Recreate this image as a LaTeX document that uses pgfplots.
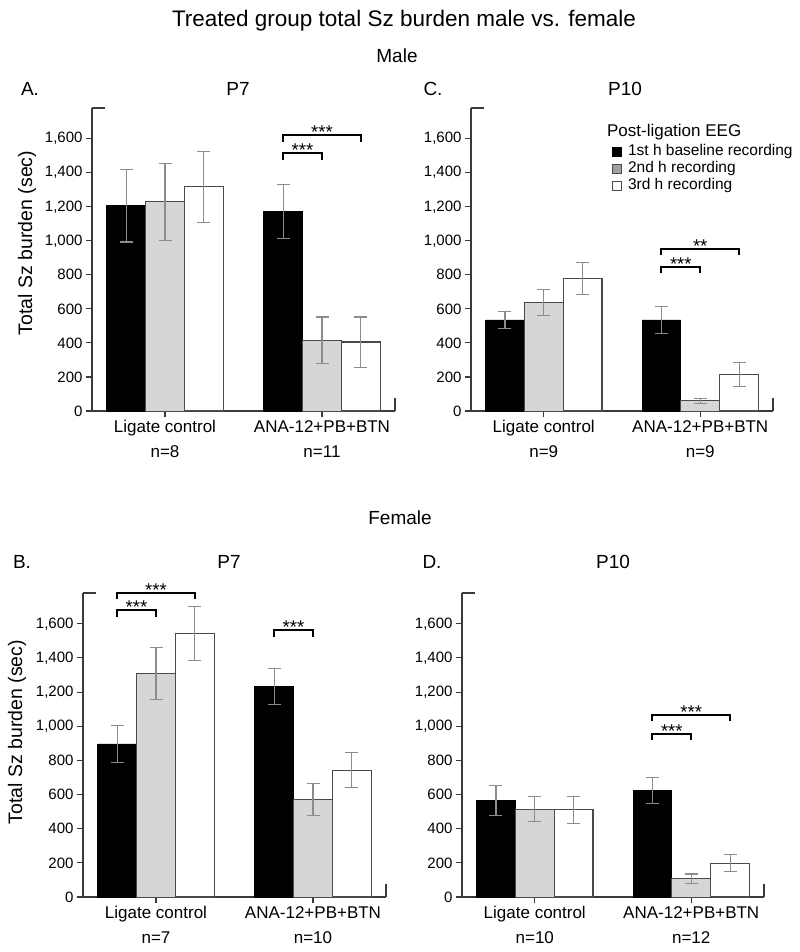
\documentclass[border=0pt]{standalone}
\usepackage{fontspec}
\setmainfont{Liberation Sans}
\usepackage{pgfplots}
\pgfplotsset{compat=1.18}

\definecolor{axc}{HTML}{3A3A3A}
\definecolor{barg}{HTML}{D6D6D6}
\definecolor{errc}{HTML}{8C8C8C}
\definecolor{edgec}{HTML}{4A4A4A}
\definecolor{legg}{HTML}{A0A0A0}

\newcommand{\sig}[6]{%
  \draw[line width=2bp, black] (axis cs:#1,#4) -- (axis cs:#1,#3) -- (axis cs:#2,#3) -- (axis cs:#2,#4);
  \node[anchor=base, font=\fontsize{18.5bp}{20bp}\selectfont, inner sep=0pt] at (axis cs:#5,#3) [yshift=-3.5bp] {#6};}

\pgfplotsset{
  panel/.style={
    scale only axis, width=303bp, height=303bp,
    xmin=-0.465, xmax=1.465, ymin=0, ymax=1780,
    axis x line*=bottom, axis y line*=left,
    axis line style={-, draw=axc, line width=1.2bp},
    tick align=outside, major tick length=6bp,
    tick style={draw=axc, line width=1.1bp},
    xtick={0,1}, ytick={0,200,...,1600},
    /pgf/number format/1000 sep={,},
    /pgf/number format/assume math mode=true,
    scaled y ticks=false,
    yticklabel style={font=\fontsize{15bp}{18bp}\selectfont},
    xticklabel style={font=\fontsize{17bp}{20bp}\selectfont, align=center},
    ybar, bar width=0.248, clip=false,
    error bars/y dir=both, error bars/y explicit,
    error bars/error bar style={draw=errc, line width=1.1bp},
    error bars/error mark options={rotate=90, draw=errc, mark size=6.5bp, line width=1.1bp},
  },
  s1/.style={fill=black, draw=black, line width=0.8bp, bar shift=-0.248},
  s2/.style={fill=barg, draw=edgec, line width=1bp, bar shift=0},
  s3/.style={fill=white, draw=edgec, line width=1.2bp, bar shift=0.248},
}
\newcommand{\stubs}{%
  \draw[draw=axc, line width=1.2bp] (axis cs:-0.465,1780) -- (axis cs:-0.382,1780);
  \draw[draw=axc, line width=1.2bp] (axis cs:1.465,0) -- (axis cs:1.465,76);}

\begin{document}
\begin{tikzpicture}
\path[use as bounding box] (0bp,0bp) rectangle (800bp,-952bp);

% titles
\node[anchor=base, font=\fontsize{22.5bp}{26bp}\selectfont] at (404bp,-26bp) {Treated group total Sz burden male vs. female};
\node[font=\fontsize{19bp}{22bp}\selectfont] at (397bp,-56bp) {Male};
\node[font=\fontsize{19bp}{22bp}\selectfont] at (400bp,-518bp) {Female};
\node[font=\fontsize{19bp}{22bp}\selectfont] at (30bp,-89bp) {A.};
\node[font=\fontsize{19bp}{22bp}\selectfont] at (238bp,-89bp) {P7};
\node[font=\fontsize{19bp}{22bp}\selectfont] at (433bp,-89bp) {C.};
\node[font=\fontsize{19bp}{22bp}\selectfont] at (625bp,-89bp) {P10};
\node[font=\fontsize{19bp}{22bp}\selectfont] at (22bp,-562bp) {B.};
\node[font=\fontsize{19bp}{22bp}\selectfont] at (229bp,-562bp) {P7};
\node[font=\fontsize{19bp}{22bp}\selectfont] at (432bp,-562bp) {D.};
\node[font=\fontsize{19bp}{22bp}\selectfont] at (613bp,-562bp) {P10};
\node[rotate=90, font=\fontsize{19.5bp}{22bp}\selectfont] at (27bp,-243bp) {Total Sz burden (sec)};
\node[rotate=90, font=\fontsize{19.5bp}{22bp}\selectfont] at (17bp,-732bp) {Total Sz burden (sec)};

% Panel A: male P7
\begin{axis}[panel, at={(92bp,-411bp)}, anchor=south west,
  xticklabels={{Ligate control\\[5bp]n=8},{ANA-12+PB+BTN\\[5bp]n=11}}]
\addplot[s1] coordinates {(0,1205) +- (0,212) (1,1171) +- (0,160)};
\addplot[s2] coordinates {(0,1228) +- (0,227) (1,415) +- (0,137)};
\addplot[s3] coordinates {(0,1318) +- (0,208) (1,405) +- (0,147)};
\stubs
\sig{0.752}{1.0}{1513}{1477}{0.876}{***}
\sig{0.752}{1.248}{1619}{1583}{1.0}{***}
\end{axis}

% Panel C: male P10
\begin{axis}[panel, at={(471bp,-411bp)}, anchor=south west, width=302bp,
  xticklabels={{Ligate control\\[5bp]n=9},{ANA-12+PB+BTN\\[5bp]n=9}},
  legend style={at={(0.467,0.884)}, anchor=north west, draw=none, fill=none,
    font=\fontsize{15.5bp}{17bp}\selectfont, inner sep=0pt, row sep=0pt,
    /tikz/every odd column/.append style={column sep=5bp},
    nodes={inner sep=1bp, text height=11.5bp, text depth=3.5bp}},
  legend cell align=left]
\addplot[s1, forget plot] coordinates {(0,535) +- (0,48) (1,535) +- (0,80)};
\addplot[s2, forget plot] coordinates {(0,638) +- (0,78) (1,59) +- (0,17)};
\addplot[s3, forget plot] coordinates {(0,777) +- (0,95) (1,215) +- (0,70)};
\addlegendimage{legend image code/.code={\draw[fill=black, draw=black, line width=0.8bp] (0bp,-4.5bp) rectangle (9bp,4.5bp);}}
\addlegendentry{1st h baseline recording}
\addlegendimage{legend image code/.code={\draw[fill=legg, draw=edgec, line width=0.8bp] (0bp,-4.5bp) rectangle (9bp,4.5bp);}}
\addlegendentry{2nd h recording}
\addlegendimage{legend image code/.code={\draw[fill=white, draw=edgec, line width=0.8bp] (0bp,-4.5bp) rectangle (9bp,4.5bp);}}
\addlegendentry{3rd h recording}
\stubs
\sig{0.752}{1.0}{846}{810}{0.876}{***}
\sig{0.752}{1.248}{953}{917}{1.0}{**}
\node[anchor=west, font=\fontsize{17bp}{20bp}\selectfont, inner sep=0pt] at (axis description cs:0.45,0.921) {Post-ligation EEG};
\end{axis}

% Panel B: female P7
\begin{axis}[panel, at={(83bp,-897bp)}, anchor=south west, height=304bp,
  xticklabels={{Ligate control\\[5bp]n=7},{ANA-12+PB+BTN\\[5bp]n=10}}]
\addplot[s1] coordinates {(0,896) +- (0,108) (1,1232) +- (0,107)};
\addplot[s2] coordinates {(0,1310) +- (0,152) (1,571) +- (0,92)};
\addplot[s3] coordinates {(0,1545) +- (0,158) (1,743) +- (0,102)};
\stubs
\sig{-0.248}{0.0}{1682}{1640}{-0.124}{***}
\sig{-0.248}{0.248}{1782}{1746}{0.0}{***}
\sig{0.752}{1.0}{1561}{1523}{0.876}{***}
\end{axis}

% Panel D: female P10
\begin{axis}[panel, at={(462bp,-897bp)}, anchor=south west, width=302bp, height=304bp,
  xticklabels={{Ligate control\\[5bp]n=10},{ANA-12+PB+BTN\\[5bp]n=12}}]
\addplot[s1] coordinates {(0,563) +- (0,88) (1,624) +- (0,77)};
\addplot[s2] coordinates {(0,514) +- (0,72) (1,108) +- (0,27)};
\addplot[s3] coordinates {(0,511) +- (0,80) (1,198) +- (0,50)};
\stubs
\sig{0.752}{1.0}{955}{919}{0.876}{***}
\sig{0.752}{1.248}{1066}{1030}{1.0}{***}
\end{axis}
\end{tikzpicture}
\end{document}
